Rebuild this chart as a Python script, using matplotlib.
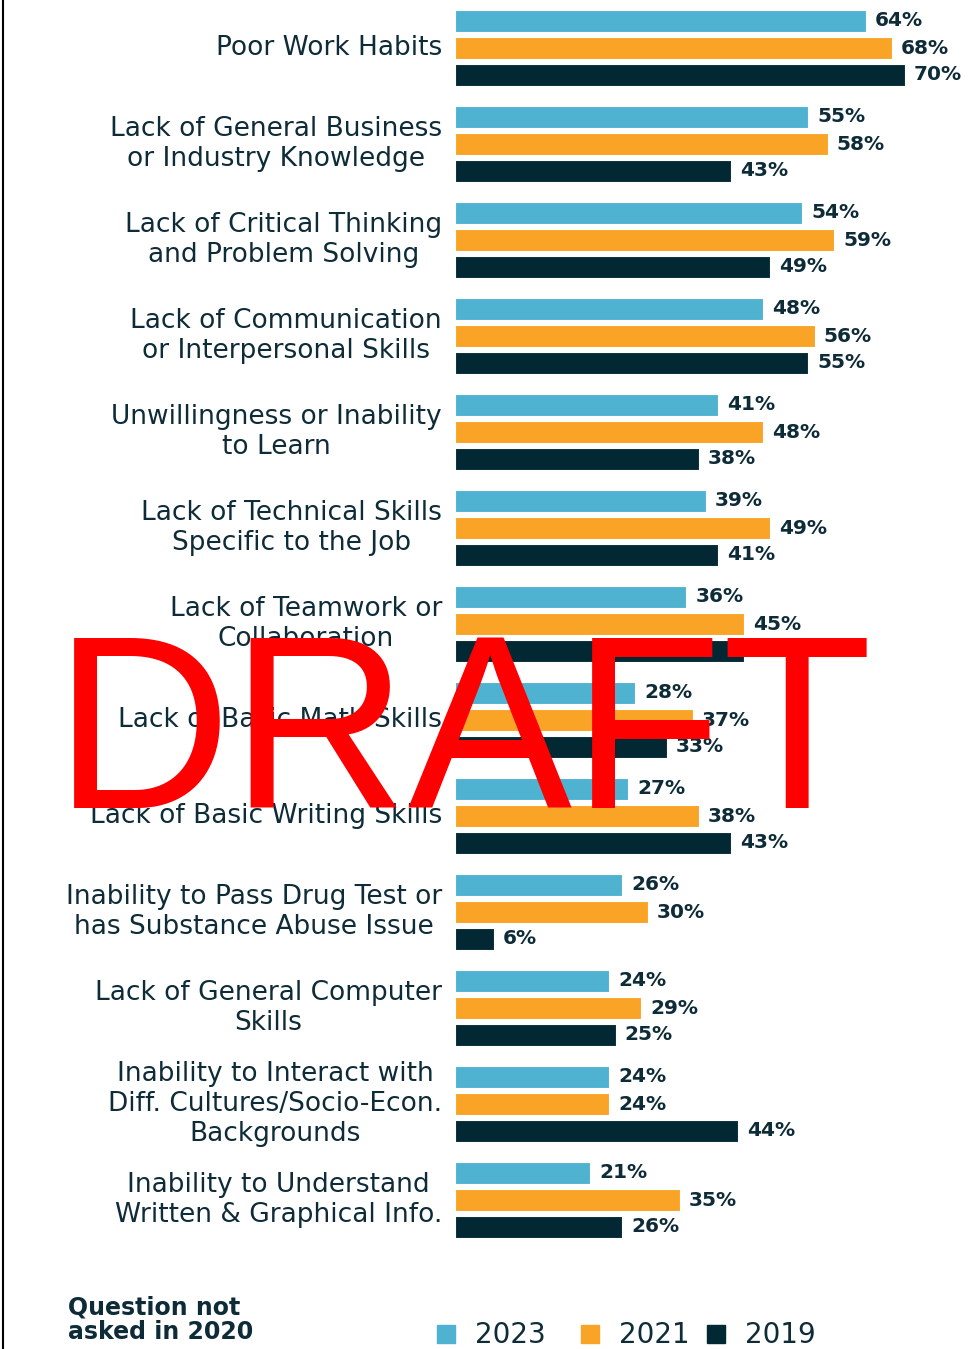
import matplotlib.pyplot as plt
from matplotlib.lines import Line2D
from matplotlib.patches import Rectangle

categories = [
    "Poor Work Habits",
    "Lack of General Business\nor Industry Knowledge",
    "Lack of Critical Thinking\nand Problem Solving",
    "Lack of Communication\nor Interpersonal Skills",
    "Unwillingness or Inability\nto Learn",
    "Lack of Technical Skills\nSpecific to the Job",
    "Lack of Teamwork or\nCollaboration",
    "Lack of Basic Math Skills",
    "Lack of Basic Writing Skills",
    "Inability to Pass Drug Test or\nhas Substance Abuse Issue",
    "Lack of General Computer\nSkills",
    "Inability to Interact with\nDiff. Cultures/Socio-Econ.\nBackgrounds",
    "Inability to Understand\nWritten & Graphical Info.",
]
v2023 = [64, 55, 54, 48, 41, 39, 36, 28, 27, 26, 24, 24, 21]
v2021 = [68, 58, 59, 56, 48, 49, 45, 37, 38, 30, 29, 24, 35]
v2019 = [70, 43, 49, 55, 38, 41, 45, 33, 43, 6, 25, 44, 26]
years = ["2023", "2021", "2019"]
colors = ["#4fb2d1", "#f9a427", "#022834"]
text_dark = "#0e2b38"

W, H = 969, 1349
fig = plt.figure(figsize=(W / 100, H / 100), dpi=100)
left = 455 / W
ax = fig.add_axes([left, 0, 1 - left, 1])
ax.set_xlim(0, 80)
ax.set_ylim(H, 0)
ax.axis("off")

group_start, group_step = 48, 96
bar_step, bar_h = 27, 22
series = [v2023, v2021, v2019]
for i, cat in enumerate(categories):
    mid = group_start + i * group_step
    for j, vals in enumerate(series):
        y = mid + (j - 1) * bar_step
        ax.barh(y, vals[i], height=bar_h, color=colors[j], edgecolor="white", linewidth=0.8)
        ax.text(vals[i] + 1.4, y, f"{vals[i]}%", va="center", ha="left",
                fontsize=14.5, fontweight="bold", color=text_dark)
    fig.text(442 / W, 1 - mid / H, cat, ha="right", va="center", multialignment="center",
             fontsize=19, color=text_dark, linespacing=1.2)

# left frame line
fig.add_artist(Line2D([2.5 / W, 2.5 / W], [0, 1], color="black", linewidth=1.5))

# footnote and legend
fig.text(68 / W, 1 - 1320 / H, "Question not\nasked in 2020", ha="left", va="center",
         fontsize=17, fontweight="bold", color=text_dark, linespacing=1.0)
legend_x = [437, 581, 707]
for x, label, c in zip(legend_x, years, colors):
    fig.add_artist(Rectangle((x / W, 1 - 1343 / H), 18 / W, 18 / H, color=c,
                             transform=fig.transFigure))
    fig.text((x + 38) / W, 1 - 1335 / H, label, ha="left", va="center",
             fontsize=20, color=text_dark)

# watermark
fig.text(463 / W, 1 - 808 / H, "DRAFT", ha="center", va="baseline",
         fontsize=177, color="#ff0000", family="Liberation Sans")

fig.savefig("out.png", dpi=100)
